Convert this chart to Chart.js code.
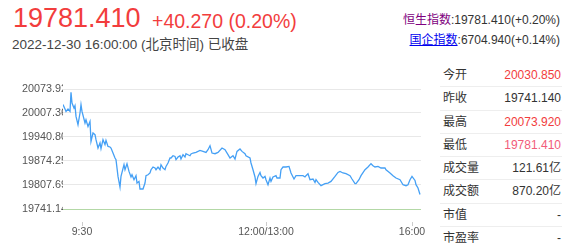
<!DOCTYPE html>
<html>
<head>
<meta charset="utf-8">
<script src="https://cdn.jsdelivr.net/npm/chart.js@4.4.0/dist/chart.umd.min.js"></script>
<style>
    body {
        margin: 0;
        width: 573px;
        height: 247px;
        overflow: hidden;
        background: #fff;
        position: relative;
        font-family: Arial, "Liberation Sans", "Noto Sans CJK SC", sans-serif;
        color: #333;
    }
    .abs { position: absolute; white-space: nowrap; }
    #price { left: 13px; top: 5px; font-size: 27px; line-height: 27px; color: #f23d3d; }
    #chg { left: 152px; top: 12px; font-size: 19.5px; line-height: 19.5px; color: #f23d3d; }
    #time { left: 12px; top: 38px; font-size: 13.5px; line-height: 13.5px; color: #444; }
    .idx { right: 13px; font-size: 12px; line-height: 12px; color: #333; }
    #hsi { top: 14px; }
    #hsi a { color: #800080; text-decoration: none; }
    #hscei { top: 34px; }
    #hscei a { color: #0000ee; text-decoration: underline; }
    #chartBox { left: 0; top: 80px; width: 430px; height: 165px; }
    #stats { left: 440px; top: 64px; width: 122px; font-size: 12px; }
    .row {
        height: 23.25px;
        line-height: 22.25px;
        box-sizing: border-box;
        border-bottom: 1px solid #eee;
        display: flex;
        justify-content: space-between;
        padding: 0 1px 0 3px;
    }
    .row:last-child { border-bottom: none; }
    .red { color: #f23d3d; }
    .pink { color: #f25c7a; }
</style>
</head>
<body>
<div id="price" class="abs">19781.410</div>
<div id="chg" class="abs">+40.270 (0.20%)</div>
<div id="time" class="abs">2022-12-30 16:00:00 (北京时间) 已收盘</div>
<div id="hsi" class="abs idx"><a>恒生指数</a>:19781.410(+0.20%)</div>
<div id="hscei" class="abs idx"><a>国企指数</a>:6704.940(+0.14%)</div>

<div id="chartBox" class="abs"><canvas id="trendChart" width="430" height="165"></canvas></div>

<div id="stats" class="abs">
    <div class="row"><span>今开</span><span class="red">20030.850</span></div>
    <div class="row"><span>昨收</span><span>19741.140</span></div>
    <div class="row"><span>最高</span><span class="red">20073.920</span></div>
    <div class="row"><span>最低</span><span class="pink">19781.410</span></div>
    <div class="row"><span>成交量</span><span>121.61亿</span></div>
    <div class="row"><span>成交额</span><span>870.20亿</span></div>
    <div class="row"><span>市值</span><span>-</span></div>
    <div class="row"><span>市盈率</span><span>-</span></div>
</div>

<script>
// 分时数据 (时间槽 / 价格)
var slots = [0, 2, 3, 5, 7, 8, 9, 11, 12, 13, 15, 17, 18, 19, 22, 23, 25, 27, 28, 30,
    32, 33, 35, 37, 38, 40, 42, 43, 45, 47, 48, 50, 52, 53, 55, 57, 58, 61, 62, 64,
    66, 68, 69, 71, 73, 74, 76, 77, 80, 82, 83, 85, 87, 88, 90, 92, 93, 95, 97, 98,
    100, 102, 103, 105, 107, 108, 110, 112, 113, 115, 117, 118, 120, 122, 123, 125, 127, 128, 130, 133,
    137, 140, 143, 145, 147, 149, 152, 155, 159, 162, 165, 167, 170, 172, 174, 177, 179, 182, 183, 187,
    188, 190, 192, 193, 195, 197, 198, 200, 202, 203, 205, 207, 208, 210, 213, 214, 217, 218, 220, 223,
    226, 228, 231, 233, 237, 240, 242, 243, 245, 247, 250, 252, 253, 255, 258, 262, 265, 268, 272, 275,
    277, 280, 283, 287, 289, 292, 293, 296, 298, 302, 305, 308, 310, 312, 315, 318, 322, 323, 327, 330,
    333, 337, 340, 343, 345, 347, 349, 352, 353, 355, 357];
var prices = [20030.85, 20018.4, 20011.8, 20018.4, 20011.8, 20065.0, 20035.1, 20021.2, 20027.6, 19997.9,
    19974.9, 20007.4, 20030.4, 20011.8, 19979.6, 19988.8, 19970.2, 19984.1, 19928.6, 19951.9,
    19947.2, 19933.3, 19910.3, 19924.2, 19908.4, 19933.3, 19919.5, 19931.4, 19914.7, 19913.1,
    19910.3, 19896.4, 19882.6, 19877.9, 19831.5, 19802.1, 19831.5, 19864.0, 19850.1, 19866.8,
    19845.4, 19829.9, 19836.2, 19822.4, 19833.5, 19813.2, 19817.7, 19796.6, 19796.6, 19813.2,
    19833.5, 19836.2, 19841.0, 19850.1, 19857.6, 19854.8, 19850.1, 19857.6, 19850.1, 19864.0,
    19854.8, 19850.1, 19859.3, 19868.7, 19882.6, 19882.6, 19888.9, 19887.0, 19877.9, 19885.3,
    19888.9, 19879.8, 19891.7, 19885.3, 19894.5, 19891.7, 19888.9, 19893.7, 19896.4, 19898.1,
    19903.7, 19900.9, 19898.1, 19905.6, 19916.7, 19896.4, 19894.5, 19898.1, 19910.3, 19905.6,
    19891.7, 19882.6, 19888.9, 19879.8, 19900.9, 19907.5, 19900.9, 19894.5, 19888.9, 19882.6,
    19868.7, 19850.1, 19829.9, 19811.3, 19831.5, 19842.6, 19833.5, 19827.1, 19831.5, 19822.4,
    19808.5, 19827.1, 19817.7, 19829.9, 19833.5, 19827.1, 19827.1, 19850.1, 19857.6, 19857.6,
    19859.3, 19841.0, 19824.3, 19833.5, 19833.5, 19833.5, 19829.9, 19833.5, 19839.0, 19822.4,
    19824.3, 19814.9, 19822.4, 19814.9, 19805.8, 19811.3, 19813.2, 19817.7, 19831.5, 19842.6,
    19845.4, 19841.0, 19839.0, 19833.5, 19824.3, 19811.3, 19811.3, 19822.4, 19833.5, 19850.1,
    19857.6, 19866.8, 19861.2, 19857.6, 19859.3, 19854.8, 19854.8, 19850.1, 19841.0, 19833.5,
    19827.1, 19822.4, 19808.5, 19805.8, 19808.5, 19822.4, 19831.5, 19820.4, 19808.5, 19799.4,
    19781.41];

var prevClose = 19741.14;
var dayHigh = 20073.92;
var yTicks = [20073.92, 20007.364, 19940.808, 19874.252, 19807.696, 19741.14];
var xTickSlots = [19, 203, 349];
var xTickLabels = ["9:30", "12:00/13:00", "16:00"];

Chart.defaults.font.family = 'Arial, "Liberation Sans", sans-serif';

// 纵轴标签在图表左边缘被截断
var clipYLabels = {
    id: "clipYLabels",
    beforeDraw: function (chart) {
        var s = chart.scales.y;
        if (s._clipWrapped) return;
        var orig = s.drawLabels;
        s.drawLabels = function (area) {
            var c = this.ctx;
            c.save();
            c.beginPath();
            c.rect(0, 0, 72, chart.height);
            c.clip();
            orig.call(this, area);
            c.restore();
        };
        s._clipWrapped = true;
    }
};

var points = slots.map(function (s, i) {
    return { x: s, y: prices[i] };
});

new Chart(document.getElementById("trendChart").getContext("2d"), {
    type: "line",
    data: {
        datasets: [{
            data: points,
            borderColor: "#45a0f5",
            borderWidth: 1.3,
            pointRadius: 0,
            tension: 0,
            fill: false
        }]
    },
    options: {
        responsive: false,
        animation: false,
        devicePixelRatio: 1,
        layout: { padding: { left: 22, top: 9, right: 9, bottom: 0 } },
        plugins: { legend: { display: false }, tooltip: { enabled: false } },
        scales: {
            x: {
                type: "linear",
                min: 0,
                max: 358,
                border: { display: false },
                grid: {
                    drawOnChartArea: false,
                    tickLength: 17,
                    tickColor: "#ccc",
                    tickBorderDash: [4, 100],
                    tickBorderDashOffset: 91
                },
                ticks: {
                    color: "#555",
                    font: { size: 10.5 },
                    padding: 0,
                    maxRotation: 0,
                    autoSkip: false,
                    callback: function (v, i) { return xTickLabels[i]; }
                },
                afterBuildTicks: function (s) {
                    s.ticks = xTickSlots.map(function (v) { return { value: v }; });
                },
                afterFit: function (s) { s.height = 36; }
            },
            y: {
                min: prevClose,
                max: dayHigh,
                border: { display: false },
                grid: {
                    drawTicks: false,
                    color: function (c) {
                        return c.tick && Math.abs(c.tick.value - prevClose) < 0.001 ? "#b3d8a6" : "#e8e8e8";
                    }
                },
                ticks: {
                    color: "#555",
                    font: { size: 10.8 },
                    crossAlign: "far",
                    padding: 0,
                    callback: function (v) { return v.toFixed(3); }
                },
                afterBuildTicks: function (s) {
                    s.ticks = yTicks.map(function (v) { return { value: v }; });
                },
                afterFit: function (s) { s.width = 41; }
            }
        }
    },
    plugins: [clipYLabels]
});
</script>
</body>
</html>
